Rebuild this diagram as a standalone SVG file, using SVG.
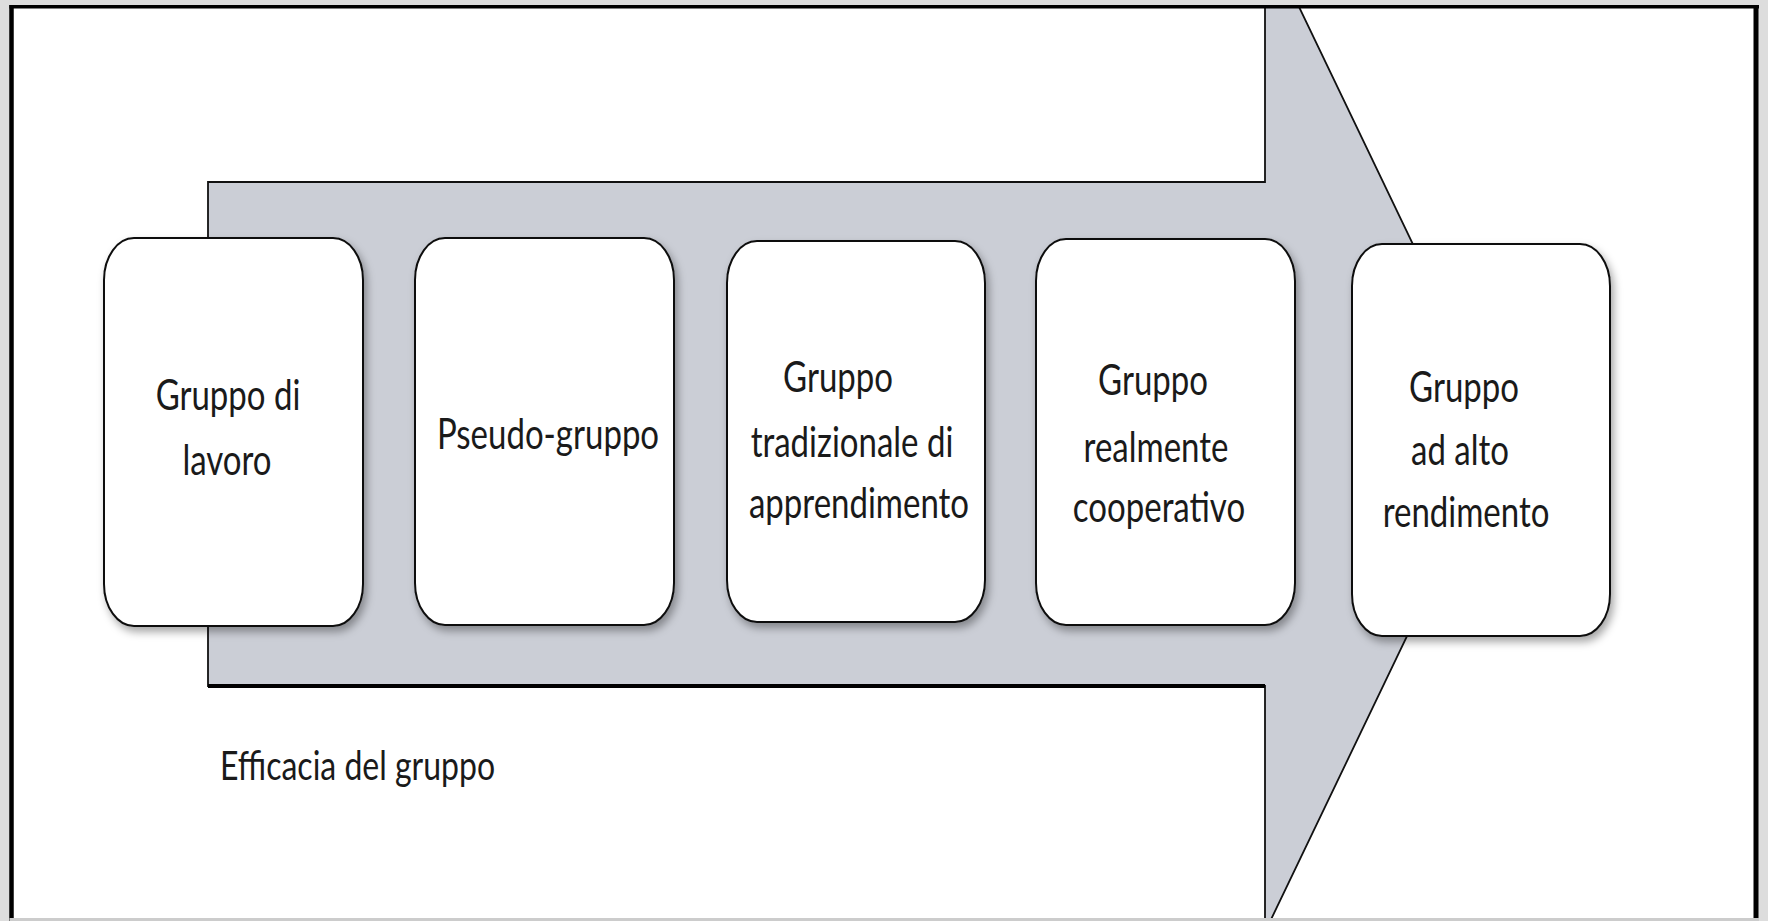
<svg xmlns="http://www.w3.org/2000/svg" width="1768" height="921" viewBox="0 0 1768 921">
  <defs>
    <style>
      .box { fill: #ffffff; stroke: #111111; stroke-width: 2; }
      .lbl { font-family: Lato, "Open Sans", "Liberation Sans", sans-serif; font-size: 33px; fill: #1a1a1a; text-anchor: middle; }
      .lbl-l { text-anchor: start; font-size: 32px; }
      .edge { stroke: #000000; fill: none; }
    </style>
    <clipPath id="frameClip">
      <rect x="13" y="8" width="1741" height="911"/>
    </clipPath>
    <filter id="shadow" x="-10%" y="-10%" width="130%" height="130%">
      <feDropShadow dx="3" dy="5" stdDeviation="4" flood-color="#000000" flood-opacity="0.35"/>
    </filter>
    <filter id="lineShadow" x="-5%" y="-50%" width="110%" height="300%">
      <feDropShadow dx="0" dy="3" stdDeviation="2.5" flood-color="#000000" flood-opacity="0.3"/>
    </filter>
  </defs>

  <!-- frame -->
  <rect x="0" y="0" width="1768" height="921" fill="#dddddd"/>
  <rect x="13" y="8" width="1741" height="911" fill="#ffffff"/>

  <!-- big arrow (connector) -->
  <g id="connectors" clip-path="url(#frameClip)">
    <polygon points="208,182 1265,182 1265,-64 1504,434 1265,932 1265,686 208,686" fill="#cbced6" stroke="#111111" stroke-width="1.8"/>
    <line class="edge" x1="208" y1="182" x2="1265" y2="182" stroke-width="4" filter="url(#lineShadow)"/>
    <line class="edge" x1="208" y1="686" x2="1265" y2="686" stroke-width="4"/>
  </g>

  <!-- nodes -->
  <g id="node1" filter="url(#shadow)">
    <rect class="box" x="104" y="238" width="259" height="388" rx="30" ry="42"/>
  </g>
  <g id="node1-text">
    <text class="lbl" transform="translate(228,410) scale(1,1.27)">Gruppo di</text>
    <text class="lbl" transform="translate(227,475) scale(1,1.27)">lavoro</text>
  </g>

  <g id="node2" filter="url(#shadow)">
    <rect class="box" x="415" y="238" width="259" height="387" rx="30" ry="42"/>
  </g>
  <g id="node2-text">
    <text class="lbl" transform="translate(548,449) scale(1,1.27)">Pseudo-gruppo</text>
  </g>

  <g id="node3" filter="url(#shadow)">
    <rect class="box" x="727" y="241" width="258" height="381" rx="30" ry="42"/>
  </g>
  <g id="node3-text">
    <text class="lbl" transform="translate(838,392) scale(1,1.27)">Gruppo</text>
    <text class="lbl" transform="translate(852,457) scale(1,1.27)">tradizionale di</text>
    <text class="lbl" transform="translate(859,518) scale(1,1.27)">apprendimento</text>
  </g>

  <g id="node4" filter="url(#shadow)">
    <rect class="box" x="1036" y="239" width="259" height="386" rx="30" ry="42"/>
  </g>
  <g id="node4-text">
    <text class="lbl" transform="translate(1153,395) scale(1,1.27)">Gruppo</text>
    <text class="lbl" transform="translate(1156,462) scale(1,1.27)">realmente</text>
    <text class="lbl" transform="translate(1159,522) scale(1,1.27)">cooperativo</text>
  </g>

  <g id="node5" filter="url(#shadow)">
    <rect class="box" x="1352" y="244" width="258" height="392" rx="30" ry="42"/>
  </g>
  <g id="node5-text">
    <text class="lbl" transform="translate(1464,402) scale(1,1.27)">Gruppo</text>
    <text class="lbl" transform="translate(1460,465) scale(1,1.27)">ad alto</text>
    <text class="lbl" transform="translate(1466,527) scale(1,1.27)">rendimento</text>
  </g>

  <g id="caption">
    <text class="lbl lbl-l" transform="translate(220,780) scale(1,1.27)">Efficacia del gruppo</text>
  </g>

  <!-- frame border -->
  <g id="frame">
    <line x1="11.5" y1="5" x2="11.5" y2="921" stroke="#000000" stroke-width="4.5"/>
    <line x1="9.5" y1="6.7" x2="1759" y2="6.7" stroke="#000000" stroke-width="3.4"/>
    <line x1="1756" y1="5" x2="1756" y2="921" stroke="#000000" stroke-width="5"/>
    <line x1="9.5" y1="919.5" x2="1759" y2="919.5" stroke="#cccccc" stroke-width="3"/>
  </g>
</svg>
